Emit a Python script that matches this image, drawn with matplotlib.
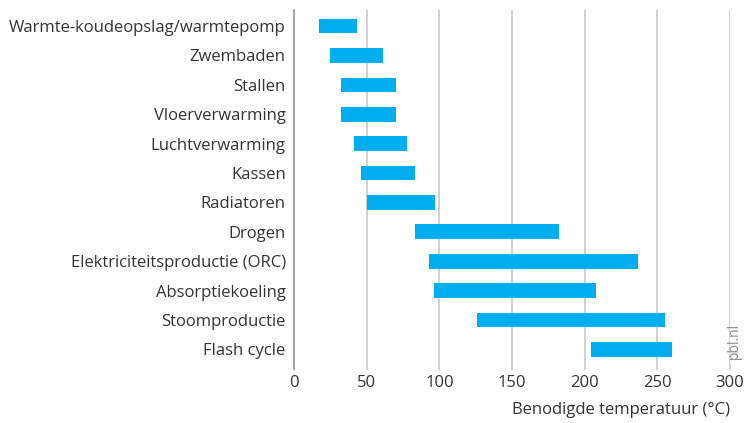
import matplotlib
matplotlib.use("Agg")
from matplotlib import pyplot as plt

plt.rcParams['font.family'] = ['Open Sans', 'DejaVu Sans']

toepassingen = ["Warmte-koudeopslag/warmtepomp", "Zwembaden", "Stallen",
                "Vloerverwarming", "Luchtverwarming", "Kassen", "Radiatoren",
                "Drogen", "Elektriciteitsproductie (ORC)", "Absorptiekoeling",
                "Stoomproductie", "Flash cycle"]
temp_min = [17, 25, 32, 32, 41, 46, 50, 83, 93, 96, 126, 204]
temp_max = [43, 61, 70, 70, 78, 83, 97, 182, 237, 208, 255, 260]
xticks = [0, 50, 100, 150, 200, 250, 300]

blauw = '#00aeef'
grijs = '#c8c8c8'
tekst = '#333333'

fig = plt.figure(figsize=(7.47, 4.23), dpi=100)
ax = fig.add_axes([0.3936, 0.1395, 0.5837, 0.837])

breedte = [hi - lo for lo, hi in zip(temp_min, temp_max)]
ax.barh(range(len(toepassingen)), breedte, left=temp_min, height=0.5,
        color=blauw, zorder=3)

ax.set_xlim(0, 300)
ax.set_ylim(len(toepassingen) - 0.5, -0.55)
ax.set_yticks(range(len(toepassingen)))
ax.set_yticklabels(toepassingen, fontsize=12, color=tekst)
ax.set_xticks(xticks)
ax.set_xticklabels([str(t) for t in xticks], fontsize=12, color=tekst)
ax.tick_params(axis='y', length=0, pad=6)
ax.tick_params(axis='x', length=4, color=grijs, width=1.2, pad=4)
ax.grid(axis='x', color=grijs, linewidth=1.2, zorder=0)

for kant in ['top', 'right', 'bottom']:
    ax.spines[kant].set_visible(False)
ax.spines['left'].set_color('#999999')
ax.spines['left'].set_linewidth(1.2)
ax.spines['left'].set_bounds(len(toepassingen) - 0.5 + 0.17, -0.55)

ax.set_xlabel('Benodigde temperatuur (°C)', fontsize=12, color=tekst,
              loc='right', labelpad=8)

fig.text(0.993, 0.151, 'pbl.nl', rotation=90, fontsize=10, color='#8a8a8a',
         ha='right', va='bottom')

fig.savefig('out.png', dpi=100)
